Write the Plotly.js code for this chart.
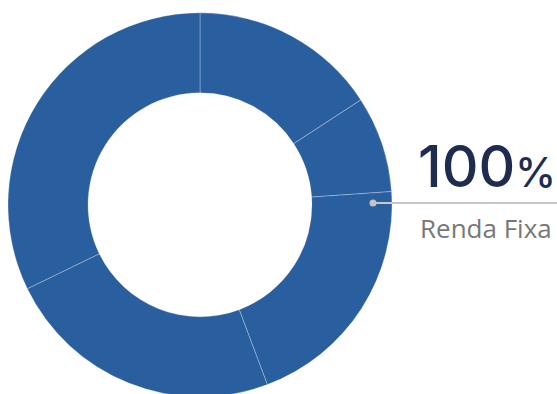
<!DOCTYPE html>
<html>
<head>
<meta charset="utf-8">
<script src="https://cdn.plot.ly/plotly-3.0.1.min.js"></script>
<style>
html,body{margin:0;padding:0;overflow:hidden;background:#fff;width:557px;height:394px;}
#chart{width:557px;height:410px;}
</style>
</head>
<body>
<div id="chart"></div>
<script>
const labels = ["Ativo A", "Ativo B", "Ativo C", "Ativo D", "Ativo E"];
const values = [15.8, 8.1, 20.4, 23.5, 32.2];
const categoryLabel = "Renda Fixa";
const categoryShare = "100";

const W = 557, H = 410;
const cx = 200, cy = 204.8, R = 192;
const py = v => (H - v) / H;
const px = v => v / W;

const trace = {
  type: "pie",
  labels: labels,
  values: values,
  sort: false,
  direction: "clockwise",
  rotation: 0,
  hole: 0.583,
  textinfo: "none",
  hoverinfo: "none",
  showlegend: false,
  marker: {
    colors: labels.map(() => "#2a5f9f"),
    line: {color: "rgba(255,255,255,0.35)", width: 0.8}
  },
  domain: {x: [px(cx - R), px(cx + R)], y: [py(cy + R), py(cy - R)]}
};

const layout = {
  width: W, height: H,
  margin: {l: 0, r: 0, t: 0, b: 0},
  paper_bgcolor: "#fff",
  showlegend: false,
  shapes: [
    {type: "line", xref: "paper", yref: "paper", x0: px(373), x1: px(557), y0: py(203), y1: py(203),
     line: {color: "#c8c8c8", width: 2}},
    {type: "circle", xref: "paper", yref: "paper", x0: px(369.5), x1: px(376.5), y0: py(206.5), y1: py(199.5),
     fillcolor: "#c4c4c4", line: {width: 0}}
  ],
  annotations: [
    {xref: "paper", yref: "paper", x: px(416), y: py(166), xanchor: "left", yanchor: "middle", showarrow: false,
     text: categoryShare + "<span style='font-size:41px'>%</span>",
     font: {family: "Inter, sans-serif", size: 57, color: "#1e2d4f", weight: 500}},
    {xref: "paper", yref: "paper", x: px(418), y: py(228), xanchor: "left", yanchor: "middle", showarrow: false,
     text: categoryLabel,
     font: {family: "Open Sans, sans-serif", size: 26, color: "#777777"}}
  ]
};

Plotly.newPlot("chart", [trace], layout, {displayModeBar: false, staticPlot: true});
</script>
</body>
</html>
